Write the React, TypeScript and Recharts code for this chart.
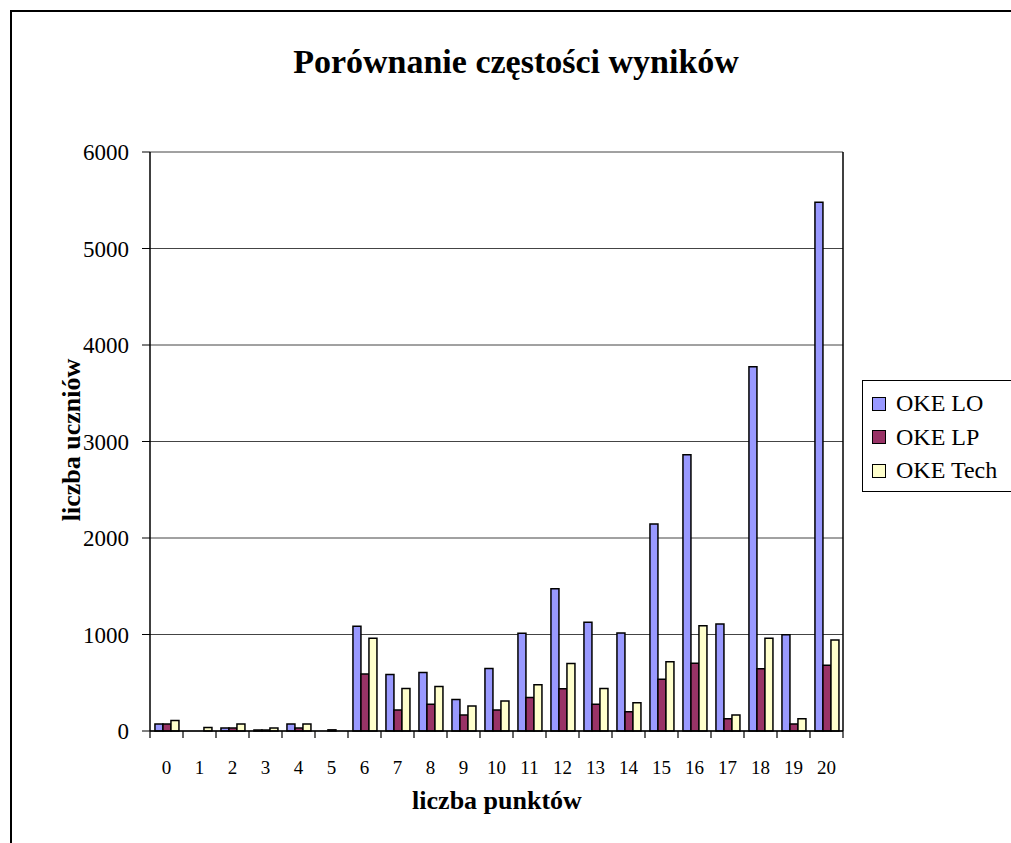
import React from "react";
import { BarChart, Bar, XAxis, YAxis, CartesianGrid, Legend } from "recharts";

const categories = ["0", "1", "2", "3", "4", "5", "6", "7", "8", "9", "10", "11", "12", "13", "14", "15", "16", "17", "18", "19", "20"];
const okeLO = [72, 0, 30, 10, 72, 0, 1085, 585, 606, 327, 647, 1012, 1474, 1126, 1015, 2145, 2863, 1109, 3775, 998, 5480];
const okeLP = [72, 0, 30, 10, 30, 12, 590, 217, 276, 165, 217, 348, 437, 276, 200, 535, 701, 128, 646, 73, 681];
const okeTech = [110, 35, 72, 30, 72, 0, 960, 441, 462, 258, 310, 478, 699, 441, 293, 718, 1091, 166, 960, 128, 943];
const yTicks = [0, 1000, 2000, 3000, 4000, 5000, 6000];

const seriesNames = ["OKE LO", "OKE LP", "OKE Tech"];
const seriesColors = ["#9999FF", "#993366", "#FFFFCC"];

const data = categories.map((c, i) => ({
  cat: c,
  "OKE LO": okeLO[i],
  "OKE LP": okeLP[i],
  "OKE Tech": okeTech[i],
}));

const font = '"Liberation Serif", "Times New Roman", serif';

function CatTick(props: any) {
  const { x, y, payload, index } = props;
  const half = payload.offset ?? 0;
  return (
    <g>
      <line x1={x - half} x2={x - half} y1={y} y2={y + 7} stroke="#000" strokeWidth={1.2} />
      {index === categories.length - 1 && (
        <line x1={x + half} x2={x + half} y1={y} y2={y + 7} stroke="#000" strokeWidth={1.2} />
      )}
      <text x={x} y={y + 43} textAnchor="middle" fontSize={19} fill="#000" fontFamily={font}>
        {payload.value}
      </text>
    </g>
  );
}

function LegendBox() {
  return (
    <div style={{ border: "1px solid #000", background: "#fff", width: 170, height: 112, boxSizing: "border-box", paddingTop: 6 }}>
      {seriesNames.map((name, i) => (
        <div key={name} style={{ display: "flex", alignItems: "center", height: 33.5, paddingLeft: 9 }}>
          <span style={{ width: 12, height: 12, background: seriesColors[i], border: "1.5px solid #000", display: "inline-block" }} />
          <span style={{ marginLeft: 10, fontSize: 24, fontFamily: font, color: "#000", whiteSpace: "nowrap" }}>{name}</span>
        </div>
      ))}
    </div>
  );
}

export default function App() {
  return (
    <div style={{ position: "absolute", left: 0, top: 0, width: 1011, height: 843, overflow: "hidden", background: "#fff", fontFamily: font }}>
      <div style={{ position: "absolute", left: 10, top: 10, width: 1100, height: 900, border: "2px solid #000" }} />
      <div style={{ position: "absolute", left: 0, top: 43, width: 1032, textAlign: "center", fontSize: 34, fontWeight: "bold", color: "#000" }}>
        Porównanie częstości wyników
      </div>
      <div style={{ position: "absolute", left: 347, top: 786, width: 300, textAlign: "center", fontSize: 26, fontWeight: "bold", color: "#000" }}>
        liczba punktów
      </div>
      <div style={{ position: "absolute", left: 72, top: 440, transform: "translate(-50%, -50%) rotate(-90deg)", fontSize: 26, fontWeight: "bold", color: "#000", whiteSpace: "nowrap" }}>
        liczba uczniów
      </div>
      <div style={{ position: "absolute", left: 0, top: 0 }}>
        <BarChart width={1011} height={843} data={data} margin={{ top: 152, right: 168, bottom: 72, left: 90 }} barGap={0} barCategoryGap="15%">
          <CartesianGrid vertical={false} stroke="#444" />
          <CartesianGrid horizontal={false} stroke="#000" strokeWidth={1.5} verticalCoordinatesGenerator={({ offset }: any) => [offset.left + offset.width]} />
          <XAxis dataKey="cat" height={40} interval={0} tickLine={false} tickSize={0} tickMargin={0} tick={<CatTick />} axisLine={{ stroke: "#000", strokeWidth: 1.5 }} />
          <YAxis width={60} domain={[0, 6000]} ticks={yTicks} interval={0} tickSize={8} tickMargin={13} axisLine={{ stroke: "#000", strokeWidth: 1.5 }} tickLine={{ stroke: "#000" }} tick={{ fontSize: 23, fill: "#000", fontFamily: font }} />
          {seriesNames.map((name, i) => (
            <Bar key={name} dataKey={name} fill={seriesColors[i]} stroke="#000" strokeWidth={1.5} isAnimationActive={false} />
          ))}
          <Legend layout="vertical" align="center" verticalAlign="middle" content={<LegendBox />} wrapperStyle={{ position: "absolute", left: 862, top: 380, width: 170, height: 112 }} />
        </BarChart>
      </div>
    </div>
  );
}
